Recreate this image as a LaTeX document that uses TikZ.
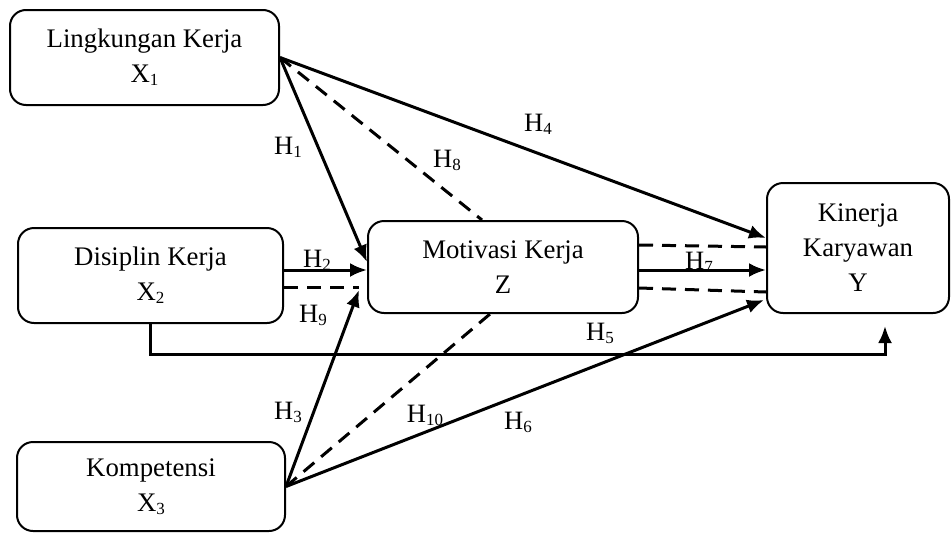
\documentclass[tikz,border=0pt]{standalone}
\usepackage{fontspec}
\setmainfont{Liberation Serif}
\usetikzlibrary{arrows.meta,calc}
\newcommand\subd[1]{\raisebox{-3pt}{\fontsize{17}{17}\selectfont #1}}
\begin{document}
\begin{tikzpicture}[x=1pt,y=-1pt,
  box/.style={draw, line width=2pt, rounded corners=16pt, align=center, font=\fontsize{26.8}{35}\selectfont, inner sep=0pt},
  arr/.style={line width=3pt, -{Latex[length=17pt,width=14pt]}},
  dsh/.style={line width=3pt, dash pattern=on 14pt off 9pt},
  lbl/.style={font=\fontsize{26.5}{30}\selectfont, inner sep=0pt}]
\useasboundingbox (0,0) rectangle (952,533);
\node[box, minimum width=269pt, minimum height=95pt] (X1) at (144.5,57.5) {Lingkungan Kerja\\X\subd{1}};
\node[box, minimum width=265pt, minimum height=95pt] (X2) at (150.5,275.5) {Disiplin Kerja\\X\subd{2}};
\node[box, minimum width=268pt, minimum height=89pt] (X3) at (151,486.5) {Kompetensi\\X\subd{3}};
\node[box, minimum width=270pt, minimum height=92pt] (Z) at (503,267) {Motivasi Kerja\\Z};
\node[box, minimum width=182pt, minimum height=130pt] (Y) at (858,248) {Kinerja\\Karyawan\\Y};
% connectors
\draw[arr] (X1.east) -- ($(Y.west)+(0,-10)$);
\draw[dsh] (X1.east) -- ($(Z.north)+(-21,0)$);
\draw[arr] (X1.east) -- ($(Z.west)+(0,-5)$);
\draw[arr] ($(X2.east)+(0,-5.5)$) -- ($(Z.west)+(0,3)$);
\draw[dsh] ($(X2.east)+(0,11.5)$) -- ($(Z.west)+(-8,20)$);
\draw[arr] (X3.east) -- ($(Z.west)+(-8,23)$);
\draw[dsh] (X3.east) -- ($(Z.south)+(-13,0)$);
\draw[arr] (X3.east) -- ($(Y.west)+(-2,52)$);
\draw[arr] ($(Z.east)+(0,3)$) -- ($(Y.west)+(0,22)$);
\draw[dsh] ($(Z.east)+(0,-22)$) -- ($(Y.west)+(0,-1)$);
\draw[dsh] ($(Z.east)+(0,21)$) -- ($(Y.west)+(0,44)$);
\draw[arr] (X2.south) -- ++(0,30) -| ($(Y.south)+(27,12)$);
% labels
\node[lbl] (h1) at (288,147) {H\subd{1}};
\node[lbl] (h2) at (317,260) {H\subd{2}};
\node[lbl] (h3) at (288,412) {H\subd{3}};
\node[lbl] (h4) at (538,124) {H\subd{4}};
\node[lbl] (h5) at (600,333) {H\subd{5}};
\node[lbl] (h6) at (518,422) {H\subd{6}};
\node[lbl] (h7) at (699,262) {H\subd{7}};
\node[lbl] (h8) at (447,160) {H\subd{8}};
\node[lbl] (h9) at (313,315) {H\subd{9}};
\node[lbl] (h10) at (425,415) {H\subd{10}};
\end{tikzpicture}
\end{document}
